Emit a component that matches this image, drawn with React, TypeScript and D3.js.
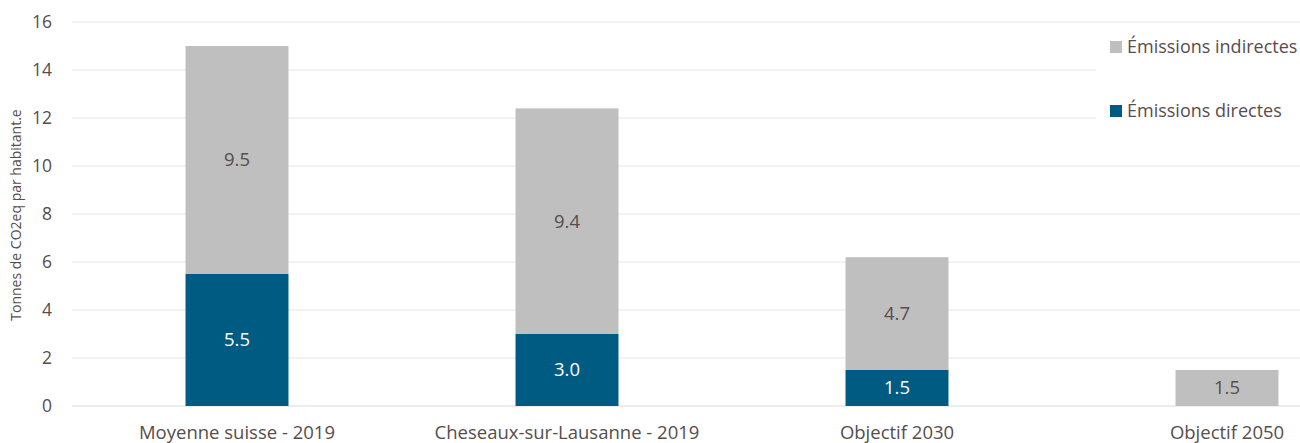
import React from "react";
import * as d3 from "d3";

const categories = ["Moyenne suisse - 2019", "Cheseaux-sur-Lausanne - 2019", "Objectif 2030", "Objectif 2050"];
const directes = [5.5, 3.0, 1.5, 0];
const indirectes = [9.5, 9.4, 4.7, 1.5];
const yTicks = [0, 2, 4, 6, 8, 10, 12, 14, 16];
const seriesNames = ["Émissions indirectes", "Émissions directes"];
const yTitle = "Tonnes de CO2eq par habitant.e";

const W = 1300;
const H = 443;
const FONT = "'Open Sans', Lato, sans-serif";
const TEXT = "#574d4c";
const C_DIR = "#005b82";
const C_IND = "#bfbfbf";

export default function App() {
  const x = d3.scaleBand<string>().domain(categories).range([72, 1392]).paddingInner(0.688).paddingOuter(0.344);
  const y = d3.scaleLinear().domain([0, 16]).range([406, 22]);
  const stackData = categories.map((c, i) => ({ cat: c, dir: directes[i], ind: indirectes[i] }));
  const stack = d3.stack<any>().keys(["dir", "ind"])(stackData);
  const bw = x.bandwidth();

  return (
    <svg width={W} height={H} style={{ position: "absolute", left: 0, top: 0, background: "#fff" }} fontFamily={FONT}>
      {yTicks.map((t) => (
        <g key={t}>
          <line x1={72} x2={W} y1={y(t)} y2={y(t)} stroke={t === 0 ? "#d9d9d9" : "#ece4e4"} strokeWidth={1} />
          <text x={52} y={y(t)} dy="0.35em" textAnchor="end" fontSize={17.5} fill={TEXT}>{t}</text>
        </g>
      ))}
      <text transform={`translate(21,215) rotate(-90)`} textAnchor="middle" fontSize={14} fill={TEXT}>{yTitle}</text>
      {stack.map((s) =>
        s.map((d, i) => {
          const v = d[1] - d[0];
          if (v <= 0) return null;
          const cat = categories[i];
          const isDir = s.key === "dir";
          const y0 = y(d[0]);
          const y1 = y(d[1]);
          return (
            <g key={s.key + i}>
              <rect x={x(cat)} y={y1} width={bw} height={y0 - y1} fill={isDir ? C_DIR : C_IND} />
              <text x={(x(cat) as number) + bw / 2} y={(y0 + y1) / 2} dy="0.35em" textAnchor="middle" fontSize={18.5} fill={isDir ? "#ffffff" : TEXT}>
                {v.toFixed(1)}
              </text>
            </g>
          );
        })
      )}
      {categories.map((c) => (
        <text key={c} x={(x(c) as number) + bw / 2} y={439} textAnchor="middle" fontSize={18.5} fill={TEXT}>{c}</text>
      ))}
      <rect x={1096} y={24} width={204} height={100} fill="#fff" />
      {seriesNames.map((n, i) => (
        <g key={n} transform={`translate(1110,${47 + i * 64})`}>
          <rect x={0} y={-6} width={12} height={12} fill={i === 0 ? C_IND : C_DIR} />
          <text x={17} y={0} dy="0.35em" fontSize={18} fill={TEXT}>{n}</text>
        </g>
      ))}
    </svg>
  );
}
